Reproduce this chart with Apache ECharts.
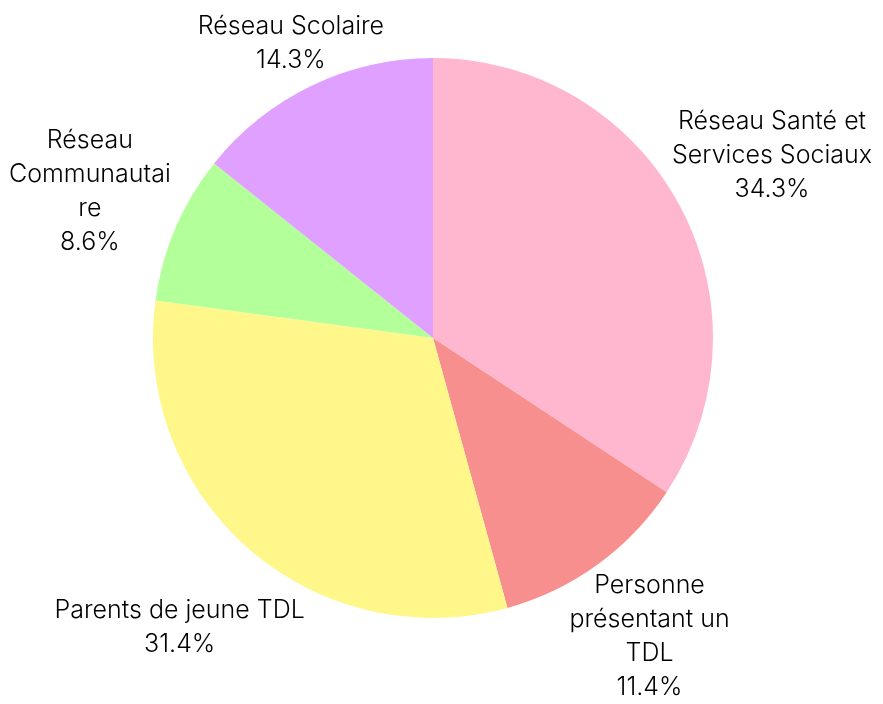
<!DOCTYPE html>
<html>
<head>
<meta charset="utf-8">
<script src="https://cdn.jsdelivr.net/npm/echarts@6/dist/echarts.min.js"></script>
<style>
  html, body { margin: 0; padding: 0; background: #fff; }
  #chart { width: 883px; height: 704px; }
</style>
</head>
<body>
<div id="chart"></div>
<script>
// categories and counts (percentages = count / total)
var categories = ["Réseau Santé et Services Sociaux", "Personne présentant un TDL", "Parents de jeune TDL", "Réseau Communautaire", "Réseau Scolaire"];
var labelText = ["Réseau Santé et\nServices Sociaux", "Personne\nprésentant un\nTDL", "Parents de jeune TDL", "Réseau\nCommunautai\nre", "Réseau Scolaire"];
var counts = [12, 4, 11, 3, 5];
var colors = ["#FFB7D0", "#F78F8E", "#FFF78A", "#B3FF9A", "#DFA0FF"];

var W = 883, H = 704;
var cx = 433, cy = 338, R = 280;
var total = counts.reduce(function(a, b){ return a + b; }, 0);

// mid angle of each slice, clockwise from top
function midAngle(idx) {
  var before = 0;
  for (var i = 0; i < idx; i++) before += counts[i];
  return (before + counts[idx] / 2) / total * Math.PI * 2;
}

var chart = echarts.init(document.getElementById('chart'));
var option = {
  animation: false,
  series: [{
    type: 'pie',
    center: [cx, cy],
    radius: [0, R],
    startAngle: 90,
    clockwise: true,
    data: categories.map(function(c, i){
      return { name: c, value: counts[i], itemStyle: { color: colors[i] } };
    }),
    label: {
      show: true,
      position: 'outside',
      overflow: 'none',
      fontFamily: 'Inter',
      fontWeight: 300,
      fontSize: 25,
      lineHeight: 34,
      color: '#000',
      align: 'center',
      formatter: function(p){
        return labelText[p.dataIndex] + '\n' + (p.value / total * 100).toFixed(1) + '%';
      }
    },
    labelLine: { show: false },
    labelLayout: function(p){
      var a = midAngle(p.dataIndex);
      var dx = Math.sin(a), dy = -Math.cos(a);
      var hw = p.labelRect.width / 2, hh = p.labelRect.height / 2;
      var m = 9, mb = 0;
      var d = R * 1.375;
      // pull label in along the ray until it fits the canvas
      if (dx < 0) d = Math.min(d, (cx - m - hw) / -dx);
      if (dx > 0) d = Math.min(d, (W - m - hw - cx) / dx);
      if (dy < 0) d = Math.min(d, (cy - m - hh) / -dy);
      if (dy > 0) d = Math.min(d, (H - mb - hh - cy) / dy);
      return {
        x: cx + dx * d,
        y: cy + dy * d,
        align: 'center',
        verticalAlign: 'middle'
      };
    }
  }]
};
chart.setOption(option);
</script>
</body>
</html>
